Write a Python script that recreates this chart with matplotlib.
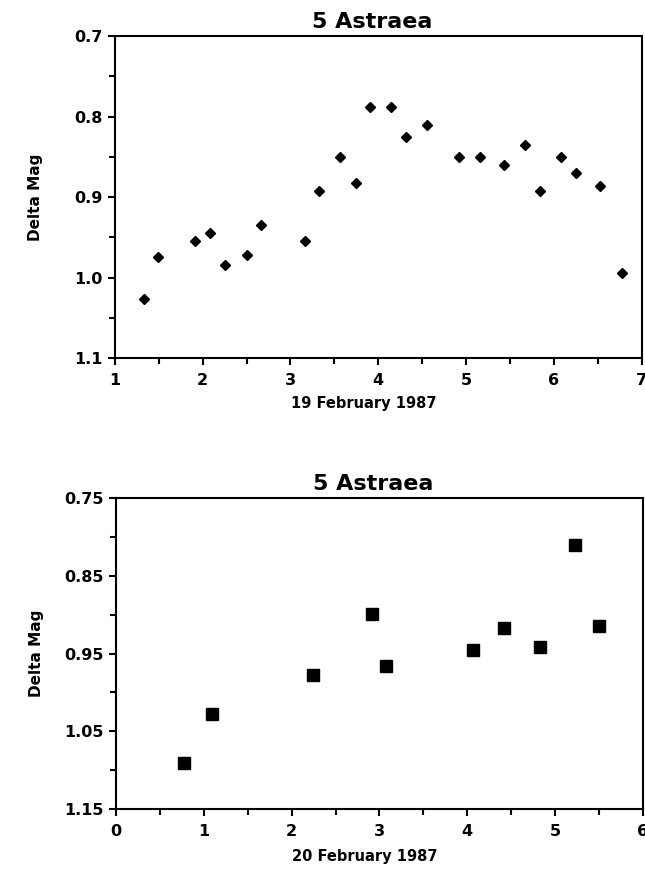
import numpy as np
import matplotlib.pyplot as plt
from matplotlib.ticker import MultipleLocator

# 19 February 1987 (top panel)
x_feb19 = [1.33, 1.49, 1.91, 2.08, 2.25, 2.51, 2.67, 3.16, 3.32, 3.56, 3.75, 3.90,
           4.15, 4.32, 4.56, 4.92, 5.16, 5.43, 5.67, 5.84, 6.08, 6.25, 6.52, 6.77]
mag_feb19 = [1.027, 0.975, 0.955, 0.945, 0.985, 0.972, 0.935, 0.955, 0.892, 0.850,
             0.883, 0.788, 0.788, 0.825, 0.810, 0.850, 0.850, 0.860, 0.835, 0.892,
             0.850, 0.870, 0.886, 0.994]

# 20 February 1987 (bottom panel)
x_feb20 = [0.77, 1.09, 2.24, 2.91, 3.07, 4.07, 4.42, 4.83, 5.23, 5.50]
mag_feb20 = [1.091, 1.028, 0.977, 0.899, 0.966, 0.946, 0.917, 0.941, 0.811, 0.914]

yticks_top = [0.7, 0.8, 0.9, 1.0, 1.1]
ytick_labels_top = ['0.7', '0.8', '0.9', '1.0', '1.1']
yticks_bot = [0.75, 0.85, 0.95, 1.05, 1.15]
ytick_labels_bot = ['0.75', '0.85', '0.95', '1.05', '1.15']

fig = plt.figure(figsize=(6.45, 8.72), dpi=100)


def style_axes(ax, xlim, yticks, ylabels, xlabel, xlabel_y):
    ax.set_xlim(*xlim)
    ax.set_ylim(yticks[-1], yticks[0])
    ax.set_yticks(yticks)
    ax.set_yticklabels(ylabels)
    ax.xaxis.set_major_locator(MultipleLocator(1))
    ax.xaxis.set_minor_locator(MultipleLocator(0.5))
    ax.yaxis.set_minor_locator(MultipleLocator(0.05))
    for sp in ax.spines.values():
        sp.set_linewidth(1.5)
    ax.tick_params(which='major', direction='out', length=5, width=1.5,
                   labelsize=11.5)
    ax.tick_params(axis='x', which='major', pad=6)
    ax.tick_params(axis='y', which='major', pad=4)
    ax.tick_params(which='minor', direction='out', length=4, width=1.5)
    for lab in ax.get_xticklabels() + ax.get_yticklabels():
        lab.set_fontweight('bold')
    ax.set_xlabel(xlabel, fontsize=10.5, fontweight='bold')
    ax.xaxis.set_label_coords(0.473, xlabel_y)
    ax.set_ylabel('Delta Mag', fontsize=11, fontweight='bold')
    ax.yaxis.set_label_coords(-0.137, 0.5)
    ax.set_title('5 Astraea', fontsize=16, fontweight='bold', x=0.488, pad=6)


ax1 = fig.add_axes([0.178, 0.5894, 0.817, 0.3693])
ax1.plot(x_feb19, mag_feb19, linestyle='none', marker='D', markersize=5.5,
         color='black')
style_axes(ax1, (1, 7), yticks_top, ytick_labels_top, '19 February 1987', -0.118)

ax2 = fig.add_axes([0.1798, 0.0722, 0.817, 0.3567])
ax2.plot(x_feb20, mag_feb20, linestyle='none', marker='s', markersize=8,
         color='black')
style_axes(ax2, (0, 6), yticks_bot, ytick_labels_bot, '20 February 1987', -0.13)

fig.savefig('out.png', dpi=100)
